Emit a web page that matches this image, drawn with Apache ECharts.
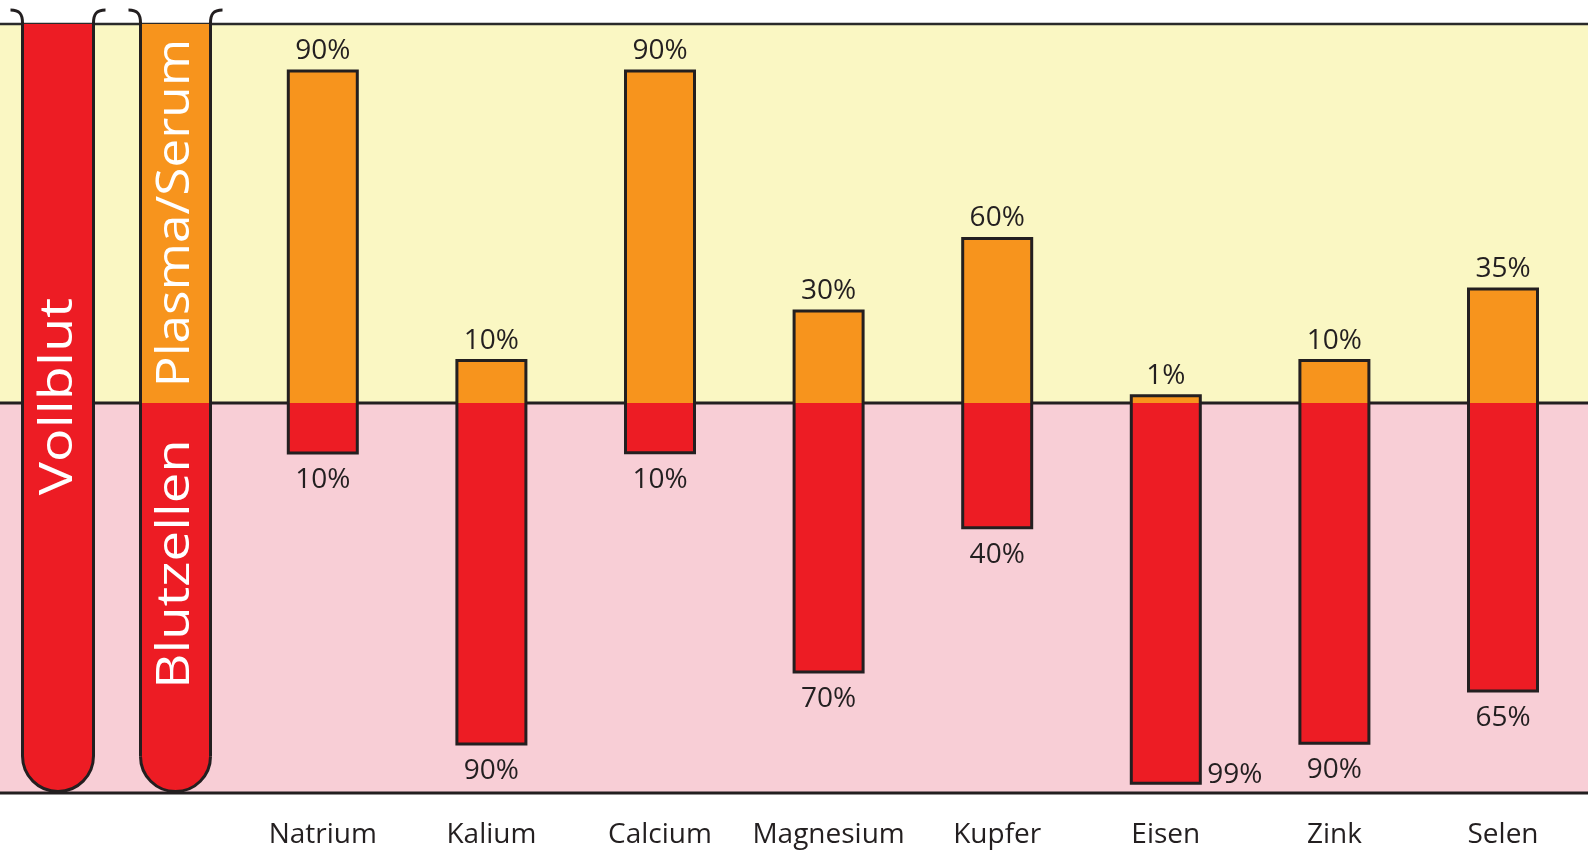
<!DOCTYPE html>
<html><head><meta charset="utf-8">
<script src="https://cdn.jsdelivr.net/npm/echarts@6/dist/echarts.min.js"></script>
<style>html,body{margin:0;padding:0;background:#fff}#c{width:1588px;height:867px}</style>
</head><body><div id="c"></div>
<script>
// ---- data ----
const categories = ['Natrium','Kalium','Calcium','Magnesium','Kupfer','Eisen','Zink','Selen'];
const plasmaLabels = ['90%','10%','90%','30%','60%','1%','10%','35%'];
const cellsLabels  = ['10%','90%','10%','70%','40%','99%','90%','65%'];
// bar lengths as drawn in the picture (scale: 100 = full height of the plasma band)
const plasmaBar = [87.6, 11.2, 87.6, 24.3, 43.4, 1.9, 11.2, 30.1];
const cellsBar  = [13.2, 90.0, 13.1, 71.0, 32.9, 100.3, 89.8, 76.0];
const tubeLabel = 'Vollblut';
const bandLabels = ['Plasma/Serum', 'Blutzellen'];
const Y_MAX = 100, Y_MIN = -102.9;

// ---- style ----
const FONT = "'Open Sans', sans-serif";
const DARK = '#231F20', RED = '#ED1C24', ORANGE = '#F7941D';
const YELLOW = '#FAF7C3', PINK = '#F8CED6';
const BAR_W = 69;

const chart = echarts.init(document.getElementById('c'), null, {renderer: 'canvas'});

const seriesData = categories.map((c, i) => [i, plasmaBar[i], cellsBar[i]]);

chart.setOption({
  animation: false,
  grid: {left: 238.5, right: 0.7, top: 24, bottom: 74},
  xAxis: {
    type: 'category', data: categories,
    axisLine: {show: false}, axisTick: {show: false}, splitLine: {show: false},
    axisLabel: {interval: 0, fontFamily: FONT, fontSize: 28, color: DARK, margin: 42, verticalAlign: 'middle'}
  },
  yAxis: {type: 'value', min: Y_MIN, max: Y_MAX, show: false, splitLine: {show: false}},
  series: [{
    type: 'custom',
    z: 5,
    data: seriesData,
    renderItem: function (params, api) {
      const idx = params.dataIndex;
      const i = api.value(0);
      const top = api.coord([i, api.value(1)]);
      const zero = api.coord([i, 0]);
      const bot = api.coord([i, -api.value(2)]);
      const bandBottom = api.coord([i, Y_MIN])[1];
      const x = top[0] - BAR_W / 2;
      const children = [
        {type: 'rect', shape: {x: x, y: top[1], width: BAR_W, height: zero[1] - top[1]}, style: {fill: ORANGE}},
        {type: 'rect', shape: {x: x, y: zero[1], width: BAR_W, height: bot[1] - zero[1]}, style: {fill: RED}},
        {type: 'rect', shape: {x: x, y: top[1], width: BAR_W, height: bot[1] - top[1]},
          style: {fill: 'none', stroke: DARK, lineWidth: 3}},
        {type: 'text', style: {text: plasmaLabels[idx], x: top[0], y: top[1] - 20,
          align: 'center', verticalAlign: 'middle', font: '28px ' + FONT, fill: DARK}}
      ];
      if (bot[1] + 36 > bandBottom) {
        children.push({type: 'text', style: {text: cellsLabels[idx], x: x + BAR_W + 7, y: bot[1] - 8,
          align: 'left', verticalAlign: 'middle', font: '28px ' + FONT, fill: DARK}});
      } else {
        children.push({type: 'text', style: {text: cellsLabels[idx], x: top[0], y: bot[1] + 27,
          align: 'center', verticalAlign: 'middle', font: '28px ' + FONT, fill: DARK}});
      }
      return {type: 'group', children: children};
    }
  }]
});

// ---- background bands, lines and tubes (vertical positions derived from the y scale) ----
const yTop = chart.convertToPixel({gridIndex: 0}, [0, Y_MAX])[1];
const yMid = chart.convertToPixel({gridIndex: 0}, [0, 0])[1];
const yBot = chart.convertToPixel({gridIndex: 0}, [0, Y_MIN])[1];
const W = 1588;

function tube(xl, xr, hookY, twoPart) {
  const r = (xr - xl) / 2;
  const yb = yBot - 1.5;
  const cy = yb - r;
  const els = [];
  if (twoPart) {
    els.push({type: 'rect', z: 10, shape: {x: xl, y: yTop, width: xr - xl, height: yMid - yTop}, style: {fill: ORANGE}});
    els.push({type: 'rect', z: 10, shape: {x: xl, y: yMid, width: xr - xl, height: yb - yMid, r: [0, 0, r, r]}, style: {fill: RED}});
  } else {
    els.push({type: 'rect', z: 10, shape: {x: xl, y: yTop, width: xr - xl, height: yb - yTop, r: [0, 0, r, r]}, style: {fill: RED}});
  }
  const st = {stroke: DARK, lineWidth: 3, fill: 'none'};
  els.push({type: 'line', z: 11, shape: {x1: xl, y1: hookY + 12, x2: xl, y2: cy}, style: st});
  els.push({type: 'line', z: 11, shape: {x1: xr, y1: hookY + 12, x2: xr, y2: cy}, style: st});
  els.push({type: 'arc', z: 11, shape: {cx: (xl + xr) / 2, cy: cy, r: r, startAngle: 0, endAngle: Math.PI, clockwise: true}, style: st});
  els.push({type: 'bezierCurve', z: 11, shape: {x1: xl - 12, y1: hookY, cpx1: xl - 3, cpy1: hookY, cpx2: xl, cpy2: hookY + 4, x2: xl, y2: hookY + 13}, style: st});
  els.push({type: 'bezierCurve', z: 11, shape: {x1: xr + 12, y1: hookY, cpx1: xr + 3, cpy1: hookY, cpx2: xr, cpy2: hookY + 4, x2: xr, y2: hookY + 13}, style: st});
  return els;
}

function vtext(txt, x, y, scaleX) {
  return {type: 'text', z: 12, x: x, y: y, rotation: Math.PI / 2, scaleX: scaleX, scaleY: 1,
    style: {text: txt, x: 0, y: 0, align: 'center', verticalAlign: 'middle', font: '45px ' + FONT, fill: '#fff'}};
}

const graphics = [
  {type: 'rect', z: 0, shape: {x: 0, y: yTop, width: W, height: yMid - yTop}, style: {fill: YELLOW}},
  {type: 'rect', z: 0, shape: {x: 0, y: yMid, width: W, height: yBot - yMid}, style: {fill: PINK}},
  {type: 'line', z: 1, shape: {x1: 0, y1: yTop, x2: W, y2: yTop}, style: {stroke: '#2a2a2a', lineWidth: 2.5}},
  {type: 'line', z: 1, shape: {x1: 0, y1: yMid, x2: W, y2: yMid}, style: {stroke: DARK, lineWidth: 3}},
  {type: 'line', z: 1, shape: {x1: 0, y1: yBot, x2: W, y2: yBot}, style: {stroke: DARK, lineWidth: 3}}
]
  .concat(tube(22.5, 93.5, 10, false))
  .concat(tube(140.5, 210.5, 10, true))
  .concat([
    vtext(tubeLabel, 59, 396.5, 1.24),
    vtext(bandLabels[0], 176, 213, 1.14),
    vtext(bandLabels[1], 176, 564, 1.21)
  ]);

chart.setOption({graphic: graphics});
</script>
</body></html>
